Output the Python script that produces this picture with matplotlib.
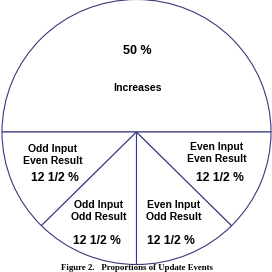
import matplotlib.pyplot as plt

# 데이터: 업데이트 이벤트 비율
categories = ['Increases', 'Odd Input\nEven Result', 'Odd Input\nOdd Result',
              'Even Input\nOdd Result', 'Even Input\nEven Result']
shares = [50, 12.5, 12.5, 12.5, 12.5]
pct_labels = ['50 %', '12 1/2 %', '12 1/2 %', '12 1/2 %', '12 1/2 %']
caption = 'Figure 2.   Proportions of Update Events'

plt.rcParams['font.family'] = ['Liberation Sans', 'DejaVu Sans']

fig = plt.figure(figsize=(2.72, 2.72), dpi=100)
ax = fig.add_axes([0, 0, 1, 1])
ax.pie(shares, startangle=0, counterclock=True, radius=1,
       colors=['white'] * len(shares),
       wedgeprops={'edgecolor': '#3a3a7c', 'linewidth': 0.8})
rx, ry = 134.5, 132.5
cx, cy = 136.5, 132.0
ax.set_xlim(-cx / rx, (272 - cx) / rx)
ax.set_ylim(-(272 - cy) / ry, cy / ry)
ax.set_aspect('auto')
ax.axis('off')

# 라벨 위치 (픽셀 기준)
name_pos = [(137, 88), (53, 155), (99, 211), (174, 211), (217, 153)]
pct_pos = [(137, 51), (55, 178), (97, 241), (171, 241), (220, 178)]
name_size = [7.6, 7.5, 7.5, 7.5, 7.5]
pct_size = [9, 8.7, 8.7, 8.7, 8.7]

for name, pct, (nx, ny), (px, py), ns, ps in zip(categories, pct_labels, name_pos,
                                                   pct_pos, name_size, pct_size):
    fig.text(nx / 272, 1 - ny / 272, name, ha='center', va='center',
             fontsize=ns, fontweight='bold', linespacing=1.3)
    fig.text(px / 272, 1 - py / 272, pct, ha='center', va='center',
             fontsize=ps, fontweight='bold')

fig.text(137 / 272, 0.5 / 272, caption, ha='center', va='bottom',
         fontsize=6.3, fontweight='bold', family='Liberation Serif')

plt.savefig('out.png', dpi=100)
